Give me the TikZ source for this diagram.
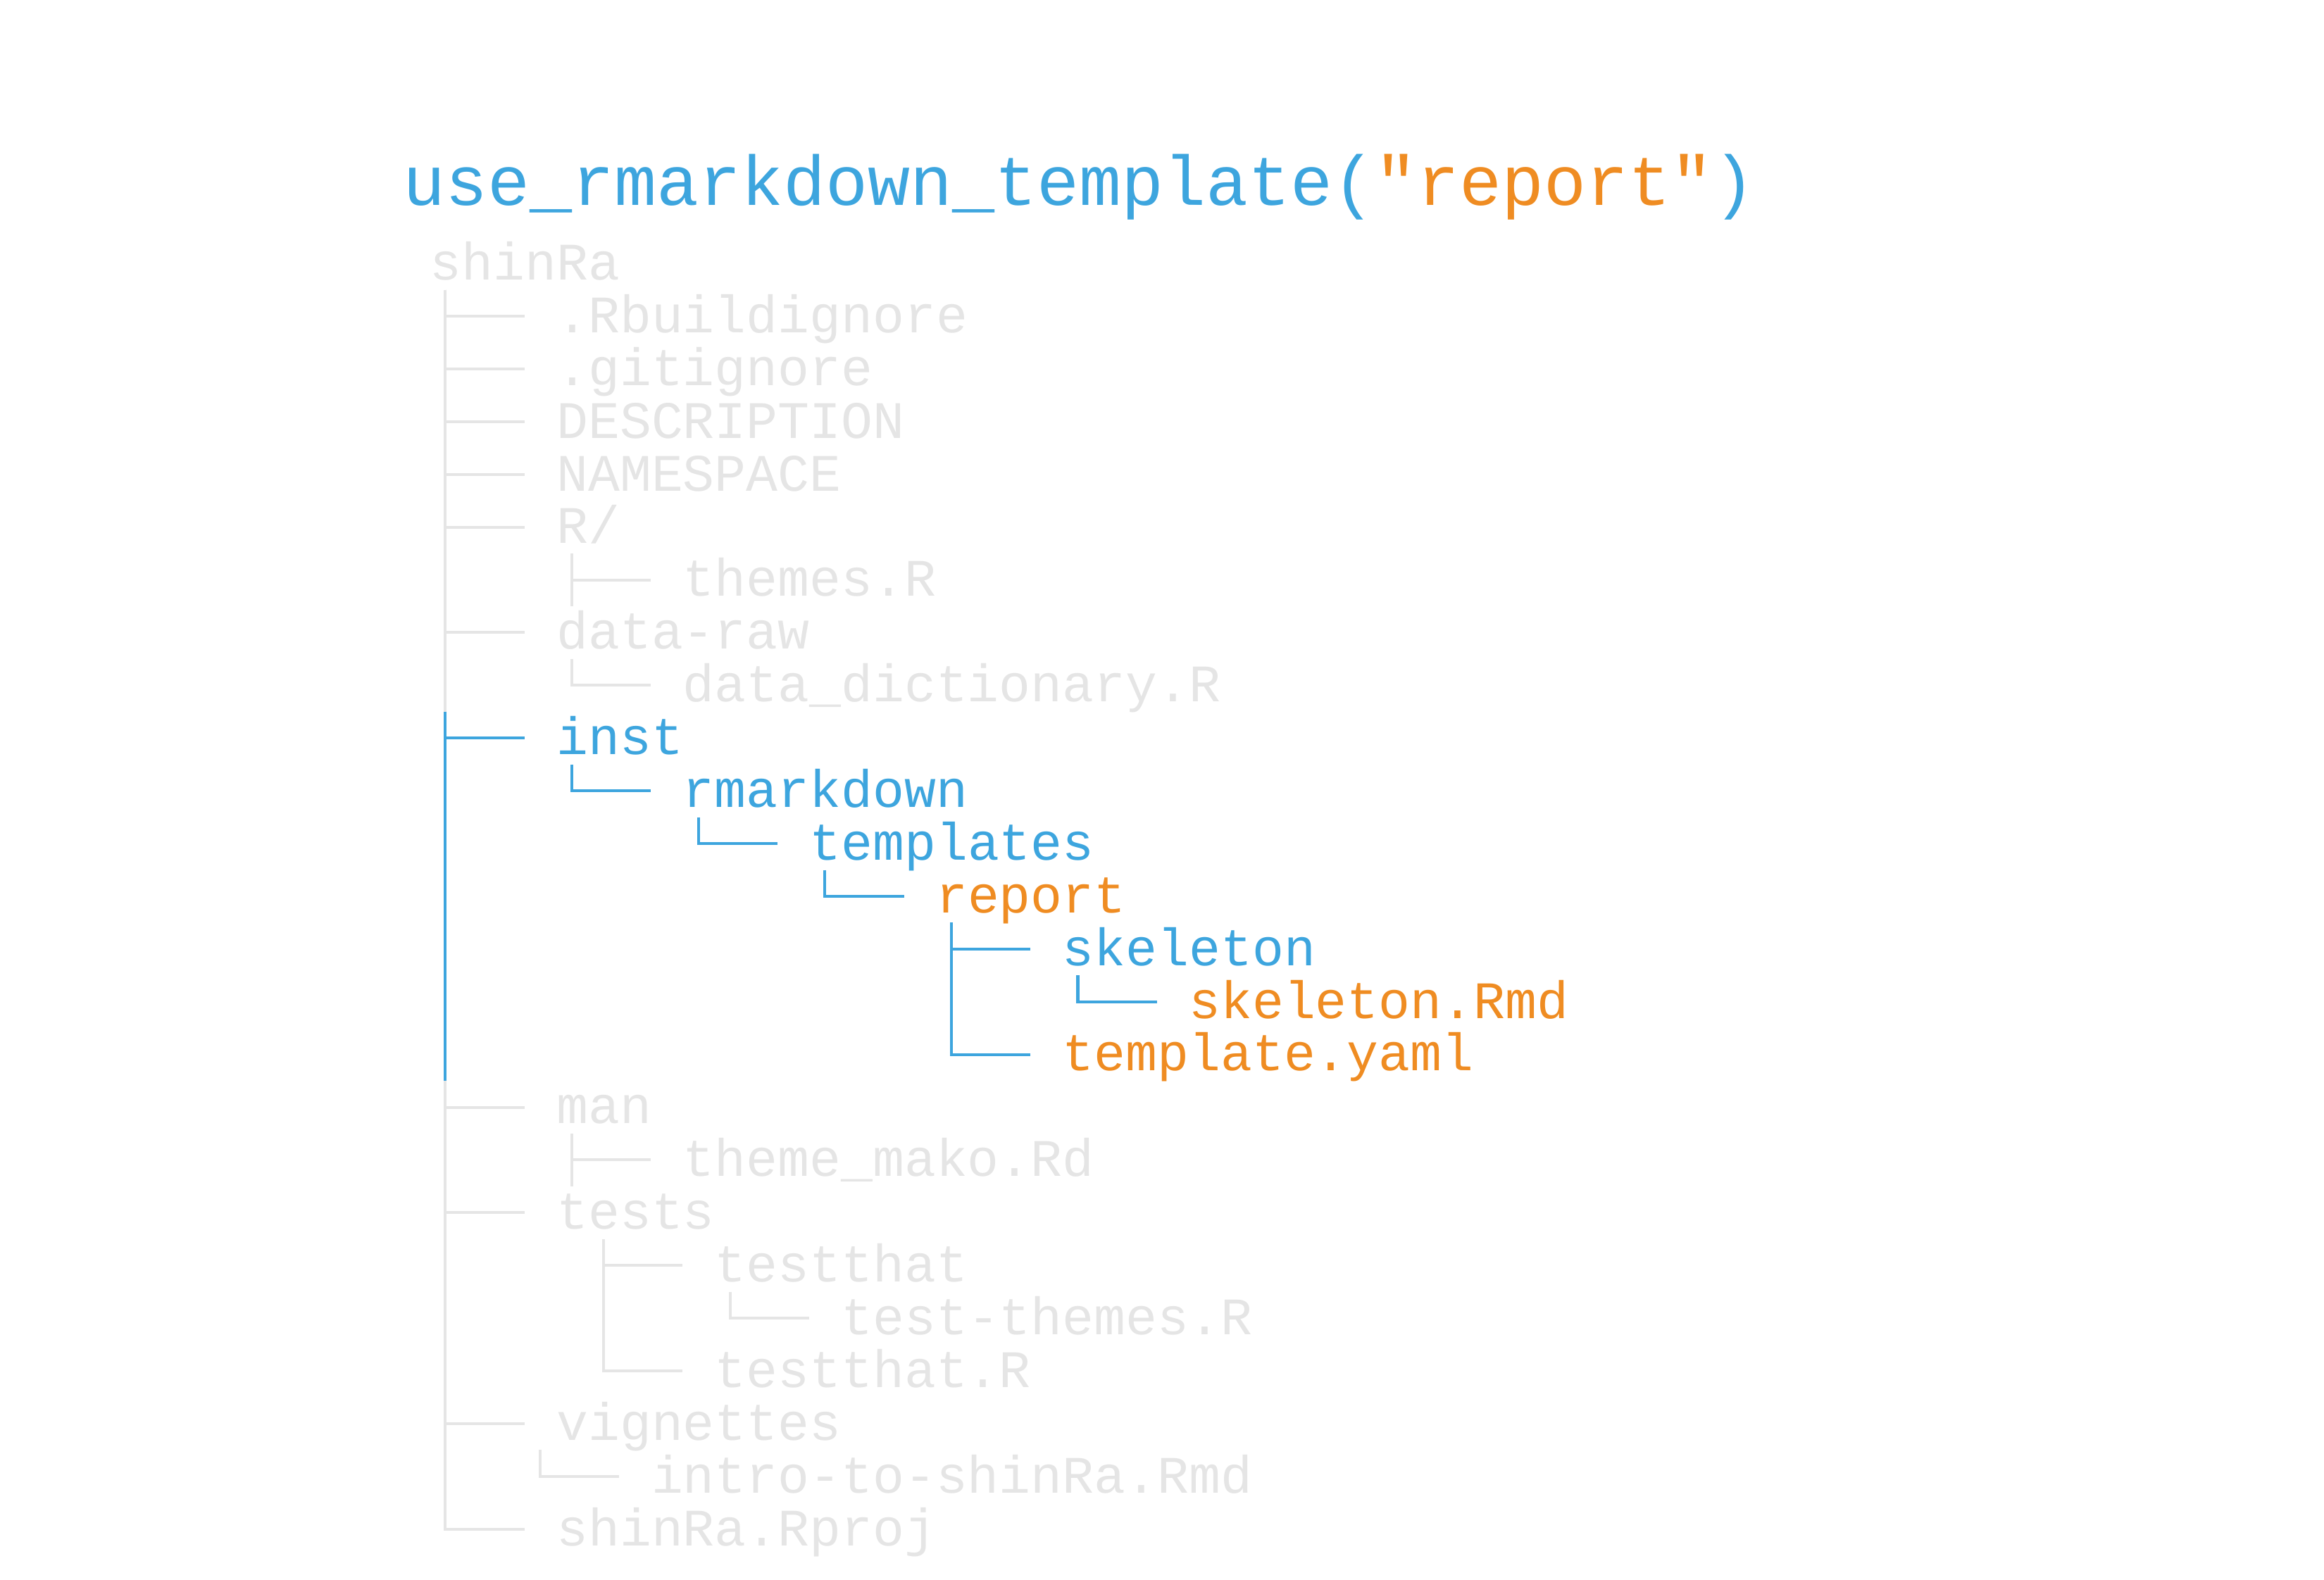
\documentclass[tikz,border=0pt]{standalone}
\usepackage{fontspec}
\newfontfamily\treemono{Liberation Mono}
\definecolor{rblue}{HTML}{3DA5DE}
\definecolor{rorange}{HTML}{EF8C22}
\definecolor{rgrey}{HTML}{E5E5E5}
\def\cw{0.449cm}
\def\lh{0.749cm}
\tikzset{
  entry/.style={anchor=west, inner sep=0pt, text height=13.26pt, text depth=0pt,
    font=\treemono\fontsize{21.29}{21.29}\selectfont},
  gname/.style={entry, text=rgrey},
  bname/.style={entry, text=rblue},
  oname/.style={entry, text=rorange},
  gline/.style={draw=rgrey, line width=1.15pt},
  bline/.style={draw=rblue, line width=1.15pt},
}
\begin{document}
\begin{tikzpicture}
  \useasboundingbox (0,0) rectangle (33,22.44);

  %% call
  \node[anchor=base west, inner sep=0pt, text=rblue,
    font=\treemono\fontsize{28.45}{28.45}\selectfont] (call) at (5.72,19.52)
    {use\_rmarkdown\_template(\textcolor{rorange}{"report"})};

  \begin{scope}[shift={(6.10,18.698)}, x=0.449cm, y=-0.749cm]
    %% entries
    \node[gname] (shinRa) at (0,0) {shinRa};
    \node[gname] (rbuild) at (4,1) {.Rbuildignore};
    \node[gname] (gitig) at (4,2) {.gitignore};
    \node[gname] (descr) at (4,3) {DESCRIPTION};
    \node[gname] (nmspc) at (4,4) {NAMESPACE};
    \node[gname] (rdir) at (4,5) {R/};
    \node[gname] (themes) at (8,6) {themes.R};
    \node[gname] (dataraw) at (4,7) {data-raw};
    \node[gname] (datadict) at (8,8) {data\_dictionary.R};
    \node[bname] (inst) at (4,9) {inst};
    \node[bname] (rmd) at (8,10) {rmarkdown};
    \node[bname] (tmpls) at (12,11) {templates};
    \node[oname] (report) at (16,12) {report};
    \node[bname] (skel) at (20,13) {skeleton};
    \node[oname] (skelrmd) at (24,14) {skeleton.Rmd};
    \node[oname] (tyaml) at (20,15) {template.yaml};
    \node[gname] (man) at (4,16) {man};
    \node[gname] (mako) at (8,17) {theme\_mako.Rd};
    \node[gname] (tests) at (4,18) {tests};
    \node[gname] (testthat) at (9,19) {testthat};
    \node[gname] (testthemes) at (13,20) {test-themes.R};
    \node[gname] (testthatR) at (9,21) {testthat.R};
    \node[gname] (vign) at (4,22) {vignettes};
    \node[gname] (intro) at (7,23) {intro-to-shinRa.Rmd};
    \node[gname] (rproj) at (4,24) {shinRa.Rproj};

    %% branch tops
    \coordinate (shinRa-t) at ([xshift=.5*\cw, yshift=-.5*\lh]shinRa.west);
    \coordinate (rdir-t) at ([xshift=.5*\cw, yshift=-.5*\lh]rdir.west);
    \coordinate (dataraw-t) at ([xshift=.5*\cw, yshift=-.5*\lh]dataraw.west);
    \coordinate (inst-t) at ([xshift=.5*\cw, yshift=-.5*\lh]inst.west);
    \coordinate (rmd-t) at ([xshift=.5*\cw, yshift=-.5*\lh]rmd.west);
    \coordinate (tmpls-t) at ([xshift=.5*\cw, yshift=-.5*\lh]tmpls.west);
    \coordinate (report-t) at ([xshift=.5*\cw, yshift=-.5*\lh]report.west);
    \coordinate (skel-t) at ([xshift=.5*\cw, yshift=-.5*\lh]skel.west);
    \coordinate (man-t) at ([xshift=.5*\cw, yshift=-.5*\lh]man.west);
    \coordinate (tests-t) at ([xshift=1.5*\cw, yshift=-.5*\lh]tests.west);
    \coordinate (testthat-t) at ([xshift=.5*\cw, yshift=-.5*\lh]testthat.west);
    \coordinate (vign-t) at ([xshift=-.5*\cw, yshift=-.5*\lh]vign.west);

    %% grey branches
    \draw[gline] (shinRa-t) |- ([xshift=-\cw]rbuild.west);
    \draw[gline] (shinRa-t) |- ([xshift=-\cw]gitig.west);
    \draw[gline] (shinRa-t) |- ([xshift=-\cw]descr.west);
    \draw[gline] (shinRa-t) |- ([xshift=-\cw]nmspc.west);
    \draw[gline] (shinRa-t) |- ([xshift=-\cw]rdir.west);
    \draw[gline] (shinRa-t) |- ([xshift=-\cw]dataraw.west);
    \draw[gline] (shinRa-t) |- ([xshift=-\cw]man.west);
    \draw[gline] (shinRa-t) |- ([xshift=-\cw]tests.west);
    \draw[gline] (shinRa-t) |- ([xshift=-\cw]vign.west);
    \draw[gline] (shinRa-t) |- ([xshift=-\cw]rproj.west);

    \draw[gline] (rdir-t) -- ++(0,-\lh);
    \draw[gline] (rdir-t) |- ([xshift=-\cw]themes.west);
    \draw[gline] (dataraw-t) |- ([xshift=-\cw]datadict.west);
    \draw[gline] (man-t) -- ++(0,-\lh);
    \draw[gline] (man-t) |- ([xshift=-\cw]mako.west);
    \draw[gline] (tests-t) |- ([xshift=-\cw]testthat.west);
    \draw[gline] (tests-t) |- ([xshift=-\cw]testthatR.west);
    \draw[gline] (testthat-t) |- ([xshift=-\cw]testthemes.west);
    \draw[gline] (vign-t) |- ([xshift=-\cw]intro.west);

    %% blue branches
    \draw[bline] ([xshift=-3.5*\cw, yshift=.5*\lh]inst.west) -- ++(0,-7*\lh);
    \draw[bline] ([xshift=-3.5*\cw, yshift=.5*\lh]inst.west) |- ([xshift=-\cw]inst.west);
    \draw[bline] (inst-t) |- ([xshift=-\cw]rmd.west);
    \draw[bline] (rmd-t) |- ([xshift=-\cw]tmpls.west);
    \draw[bline] (tmpls-t) |- ([xshift=-\cw]report.west);
    \draw[bline] (report-t) |- ([xshift=-\cw]skel.west);
    \draw[bline] (report-t) |- ([xshift=-\cw]tyaml.west);
    \draw[bline] (skel-t) |- ([xshift=-\cw]skelrmd.west);
  \end{scope}
\end{tikzpicture}
\end{document}
